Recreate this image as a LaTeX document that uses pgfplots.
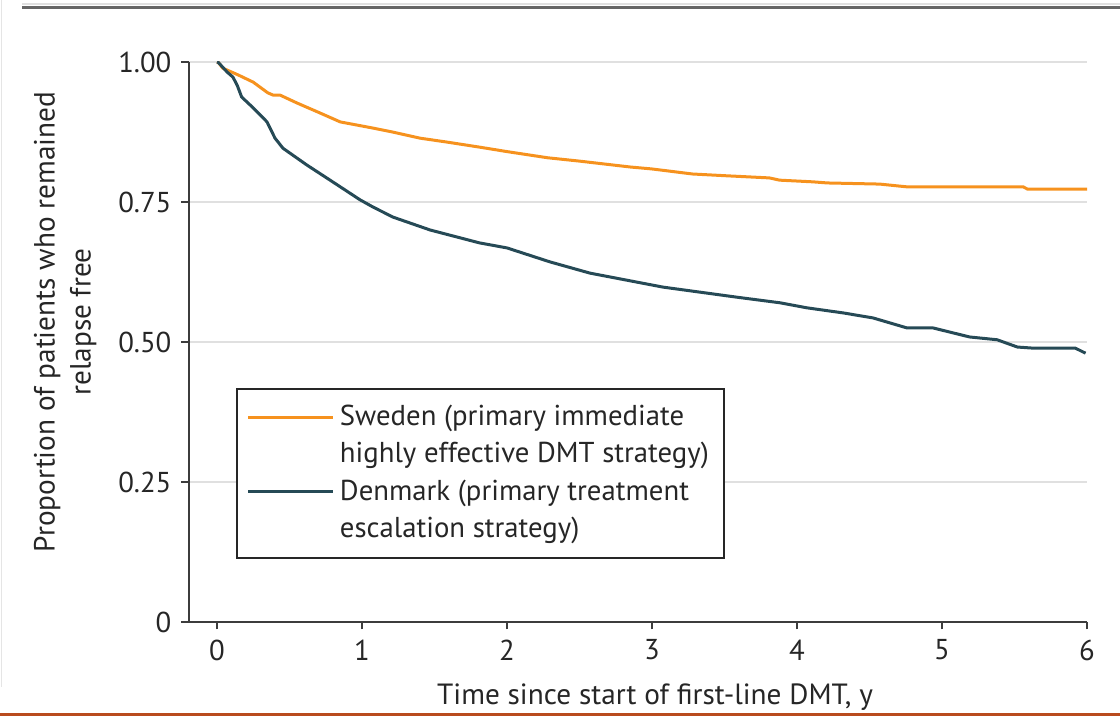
\documentclass[border=0pt]{standalone}
\usepackage{fontspec}
\setmainfont{PT Sans}
\usepackage{pgfplots}
\pgfplotsset{compat=1.18}
\definecolor{swe}{RGB}{246,146,30}
\definecolor{den}{RGB}{38,74,86}
\definecolor{axisgray}{RGB}{60,60,60}
\definecolor{brownrule}{RGB}{185,75,30}
\begin{document}
\fontsize{11.5}{14.5}\selectfont
\begin{tikzpicture}[x=1pt,y=1pt]
\useasboundingbox (0,0) rectangle (448,286.8);
\draw[black!10, line width=0.8pt] (0.6,12) -- (0.6,286.8);
\draw[black!60, line width=1.2pt] (8.8,283.6) -- (448,283.6);
\draw[black!12, line width=0.6pt] (8.8,285.2) -- (448,285.2);
\draw[brownrule, line width=1.2pt] (0,0.8) -- (448,0.8);
\begin{axis}[
  at={(75.6pt,38pt)}, anchor=south west,
  scale only axis, width=359.2pt, height=224pt,
  xmin=-0.1931, xmax=6, ymin=0, ymax=1,
  axis lines=left,
  axis line style={-, line width=0.8pt, color=axisgray},
  tick align=outside, major tick length=3pt,
  tick style={line width=0.8pt, color=axisgray},
  xtick={0,1,2,3,4,5,6},
  ytick={0,0.25,0.5,0.75,1},
  yticklabels={0,0.25,0.50,0.75,1.00},
  ymajorgrids,
  grid style={black!12, line width=0.8pt},
  tick label style={font=\fontsize{11.5}{14}\selectfont, text=black!85},
  /pgf/number format/assume math mode=true,
  xlabel={Time since start of first-line DMT, y},
  xlabel style={at={(axis description cs:0.519,-0.134)}, anchor=center, font=\fontsize{11.7}{14}\selectfont, text=black!85},
  ylabel={Proportion of patients who remained\\relapse free},
  ylabel style={align=center, at={(axis description cs:-0.138,0.5357)}, anchor=center, font=\fontsize{11.7}{14.4}\selectfont, text=black!85},
  legend style={at={(axis description cs:0.0523,0.418)}, anchor=north west,
    draw=black!85, line width=0.8pt, inner xsep=4pt, inner ysep=4.6pt, row sep=1pt,
    font=\fontsize{11.5}{14.8}\selectfont, text=black!85,
    nodes={inner sep=2pt}, cells={anchor=west, align=left}},
  legend image code/.code={\draw[#1, line width=1.2pt] (1.6pt,7.5pt) -- (35.6pt,7.5pt);},
]
\addplot[swe, line width=1.2pt] coordinates {
(0,1.0) (0.01,0.999) (0.04,0.989) (0.145,0.977) (0.25,0.964) (0.35,0.945) (0.386,0.941) (0.434,0.941)
(0.55,0.927) (0.71,0.909) (0.85,0.893) (1.076,0.882) (1.21,0.875) (1.40,0.864) (1.586,0.857)
(1.81,0.848) (2.0,0.840) (2.28,0.829) (2.5,0.823) (2.85,0.8125) (3.0,0.809) (3.28,0.800)
(3.5,0.797) (3.81,0.793) (3.88,0.789) (4.11,0.786) (4.21,0.784) (4.57,0.782) (4.76,0.777)
(5.56,0.777) (5.59,0.773) (6.0,0.773)
};
\addlegendentry{Sweden (primary immediate\\highly effective DMT strategy)}
\addplot[den, line width=1.2pt] coordinates {
(0,1.0) (0.01,0.999) (0.07,0.982) (0.11,0.973) (0.14,0.958) (0.17,0.9375) (0.25,0.918) (0.345,0.893)
(0.40,0.864) (0.455,0.846) (0.62,0.816) (0.78,0.789) (0.986,0.754) (1.076,0.741) (1.214,0.723)
(1.47,0.700) (1.81,0.677) (2.0,0.668) (2.297,0.643) (2.572,0.623) (3.076,0.598) (3.586,0.580)
(3.883,0.570) (4.069,0.561) (4.317,0.552) (4.524,0.543) (4.76,0.525) (4.94,0.525) (5.19,0.509)
(5.38,0.504) (5.52,0.491) (5.63,0.489) (5.92,0.489) (5.99,0.480)
};
\addlegendentry{Denmark (primary treatment\\escalation strategy)}
\end{axis}
\end{tikzpicture}
\end{document}
